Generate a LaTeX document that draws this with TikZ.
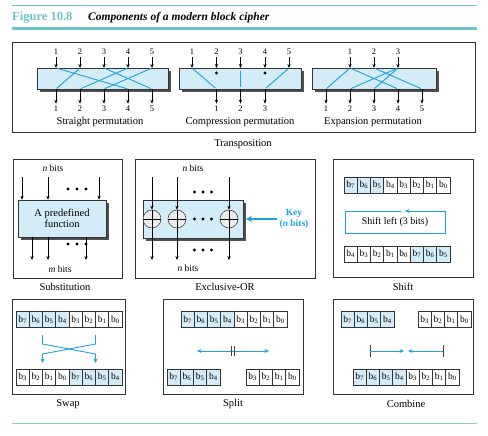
\documentclass[tikz,border=0pt]{standalone}
\usepackage{fontspec}
\setmainfont{Liberation Serif}
\usepackage{xcolor}
\usepackage{tikz}
\usetikzlibrary{arrows.meta}

\definecolor{boxblue}{HTML}{D3ECF8}
\definecolor{linecyan}{HTML}{1AA3DC}
\definecolor{headteal}{HTML}{6CC4CB}
\definecolor{shadegray}{HTML}{505050}

\tikzset{
  frame/.style={draw=black!80, line width=0.7pt},
  blockbox/.style={draw=black!80, fill=boxblue, line width=0.5pt},
  shadowbox/.style={fill=shadegray},
  inarrow/.style={-{Stealth[length=4pt,width=3.2pt]}, line width=0.55pt},
  wire/.style={linecyan, line width=0.9pt},
  cyanarrow/.style={wire, -{Stealth[length=4.5pt,width=4pt]}},
  num/.style={font=\fontsize{8.5}{9}\selectfont, inner sep=0pt, outer sep=2.5pt},
  caption/.style={font=\fontsize{10.5}{12}\selectfont, inner sep=0pt},
  bitslbl/.style={font=\fontsize{9.5}{11}\selectfont, inner sep=0pt},
  cell/.style={draw=black!80, line width=0.5pt, minimum width=13.25pt, minimum height=16pt, inner sep=0pt, font=\fontsize{9.5}{10}\selectfont},
  cellon/.style={cell, fill=boxblue},
  xorgate/.style={circle, draw=black!80, fill=gray!15, minimum size=18pt, inner sep=0pt, line width=0.5pt},
}

\begin{document}
\begin{tikzpicture}[x=1pt,y=-1pt]
\useasboundingbox (0,0) rectangle (488,436);

% Heading
\draw[headteal, line width=0.8pt] (12,5) -- (477,5);
\node[anchor=base west, text=headteal, font=\bfseries\fontsize{12.5}{13}\selectfont, inner sep=0pt] (fignum) at (12,20.5) {Figure 10.8};
\node[anchor=base west, font=\bfseries\itshape\fontsize{11.5}{12}\selectfont, inner sep=0pt] (figtitle) at (88,20.5) {Components of a modern block cipher};
\fill[headteal] (12,27.3) rectangle (477,30);

% Transposition panel
\draw[frame] (12,42) rectangle (475,132);

% Straight permutation
\fill[shadowbox] (40,71) rectangle (171,92);
\draw[blockbox] (37,68) rectangle (168,89);
\foreach \i/\x in {1/56,2/80,3/104,4/128,5/152} {
  \node[num] (sp-in-\i) at (\x,52) {\i};
  \coordinate (sp-t-\i) at (\x,68);
  \coordinate (sp-b-\i) at (\x,89);
  \node[num] (sp-out-\i) at (\x,109) {\i};
  \draw[inarrow] (sp-in-\i) -- (sp-t-\i);
  \draw[inarrow] (sp-b-\i) -- (sp-out-\i);
}
\foreach \a/\b in {1/4,2/1,3/5,4/2,5/3}
  \draw[wire, shorten <=1pt, shorten >=1pt] (sp-t-\a) -- (sp-b-\b);
\node[caption] (sp-cap) at (100,122) {Straight permutation};

% Compression permutation
\fill[shadowbox] (182,71) rectangle (304,92);
\draw[blockbox] (179,68) rectangle (301,89);
\foreach \i/\x in {1/192,2/216.5,3/240.5,4/265,5/289} {
  \node[num] (cp-in-\i) at (\x,52) {\i};
  \coordinate (cp-t-\i) at (\x,68);
  \draw[inarrow] (cp-in-\i) -- (cp-t-\i);
}
\foreach \i/\x in {1/216.5,2/240.5,3/265} {
  \coordinate (cp-b-\i) at (\x,89);
  \node[num] (cp-out-\i) at (\x,109) {\i};
  \draw[inarrow] (cp-b-\i) -- (cp-out-\i);
}
\draw[wire, shorten <=1.5pt, shorten >=1.5pt] (cp-t-1) -- (cp-b-1);
\draw[wire, shorten <=3.5pt, shorten >=1.5pt] (cp-t-3) -- (cp-b-2);
\draw[wire, shorten <=1.5pt, shorten >=1.5pt] (cp-t-5) -- (cp-b-3);
\fill ([yshift=-5pt]cp-t-2) circle (1.6);
\fill ([yshift=-5pt]cp-t-4) circle (1.6);
\node[caption] (cp-cap) at (240,122) {Compression permutation};

% Expansion permutation
\fill[shadowbox] (315,71) rectangle (439,92);
\draw[blockbox] (312,68) rectangle (436,89);
\foreach \i/\x in {1/350,2/374,3/398} {
  \node[num] (ep-in-\i) at (\x,52) {\i};
  \coordinate (ep-t-\i) at (\x,68);
  \draw[inarrow] (ep-in-\i) -- (ep-t-\i);
}
\foreach \i/\x in {1/326,2/350,3/374,4/398,5/422} {
  \coordinate (ep-b-\i) at (\x,89);
  \node[num] (ep-out-\i) at (\x,109) {\i};
  \draw[inarrow] (ep-b-\i) -- (ep-out-\i);
}
\foreach \a/\b in {1/1,1/4,2/5,3/2,3/3}
  \draw[wire, shorten <=1pt, shorten >=1pt] (ep-t-\a) -- (ep-b-\b);
\node[caption] (ep-cap) at (373,122) {Expansion permutation};

\node[caption] (tr-cap) at (243,144) {Transposition};

% Substitution
\draw[frame] (13,159) rectangle (122,278);
\node[bitslbl] (sub-n) at (53,168) {\textit{n} bits};
\fill[shadowbox] (21,203) rectangle (109,240);
\node[blockbox, minimum width=88pt, minimum height=37pt, align=center, font=\fontsize{10.5}{11.5}\selectfont] (sub) at (62,218.5) {A predefined\\function};
\foreach \i/\x in {1/22,2/48,3/99} {
  \coordinate (sub-i\i) at (\x,177);
  \draw[inarrow] (sub-i\i) -- (sub-i\i |- sub.north);
}
\foreach \i/\x in {1/32,2/48,3/86} {
  \coordinate (sub-o\i) at (\x,260);
  \draw[inarrow] (sub-o\i |- sub.south) -- (sub-o\i);
}
\foreach \d in {-9,0,9} {
  \fill (77+\d,189) circle (1.7);
  \fill (77+\d,244) circle (1.7);
}
\node[bitslbl] (sub-m) at (60,269) {\textit{m} bits};
\node[caption] (sub-cap) at (65,287) {Substitution};

% Exclusive-OR
\draw[frame] (135,159) rectangle (315,278);
\node[bitslbl] (xor-n) at (193,168) {\textit{n} bits};
\fill[shadowbox] (146,203) rectangle (246,241);
\draw[blockbox] (143,200) rectangle (243,238);
\foreach \i/\x in {1/152,2/177,3/229} {
  \node[xorgate] (g\i) at (\x,219) {};
  \draw[line width=0.5pt] (g\i.north) -- (g\i.south);
  \draw[line width=0.5pt] (g\i.west) -- (g\i.east);
  \coordinate (xor-i\i) at (\x,177);
  \coordinate (xor-o\i) at (\x,260);
  \draw[inarrow] (xor-i\i) -- (g\i.north);
  \draw[inarrow] (g\i.south) -- (xor-o\i);
}
\foreach \d in {-8.5,0,8.5} {
  \fill (203+\d,192) circle (1.6);
  \fill (203+\d,219) circle (1.6);
  \fill (203+\d,250) circle (1.6);
}
\coordinate (key-s) at (277,219);
\coordinate (key-e) at (246,219);
\draw[linecyan, line width=1.8pt, -{Stealth[length=6pt,width=6.5pt]}] (key-s) -- (key-e);
\node[text=linecyan, font=\bfseries\fontsize{9.5}{11}\selectfont, align=center, inner sep=0pt] (key) at (294,218.5) {Key\\(\textit{n} bits)};
\node[bitslbl] (xor-n2) at (188,268) {\textit{n} bits};
\node[caption] (xor-cap) at (225,287) {Exclusive-OR};

% Shift
\draw[frame] (333,159) rectangle (473,277);
\foreach \b/\i in {7/0,6/1,5/2}
  \node[cellon] (sh-t\i) at ({350.6+13.25*\i},185) {b\textsubscript{\b}};
\foreach \b/\i in {4/3,3/4,2/5,1/6,0/7}
  \node[cell] (sh-t\i) at ({350.6+13.25*\i},185) {b\textsubscript{\b}};
\foreach \b/\i in {4/0,3/1,2/2,1/3,0/4}
  \node[cell] (sh-b\i) at ({350.6+13.25*\i},254) {b\textsubscript{\b}};
\foreach \b/\i in {7/5,6/6,5/7}
  \node[cellon] (sh-b\i) at ({350.6+13.25*\i},254) {b\textsubscript{\b}};
\coordinate (sh-a) at (401,211);
\coordinate (sh-z) at (405,211);
\draw[cyanarrow] (sh-a) -- (345,211) -- (345,233) -- (445,233) -- (445,211) -- (sh-z);
\node[font=\fontsize{10}{11}\selectfont, inner sep=0pt] (sh-txt) at (395,222.5) {Shift left (3 bits)};
\node[caption] (sh-cap) at (403,287) {Shift};

% Swap
\draw[frame] (12,299) rectangle (125,394);
\foreach \b/\i in {7/0,6/1,5/2,4/3}
  \node[cellon] (sw-t\i) at ({22.6+13.25*\i},319.5) {b\textsubscript{\b}};
\foreach \b/\i in {3/4,2/5,1/6,0/7}
  \node[cell] (sw-t\i) at ({22.6+13.25*\i},319.5) {b\textsubscript{\b}};
\foreach \b/\i in {3/0,2/1,1/2,0/3}
  \node[cell] (sw-b\i) at ({22.6+13.25*\i},377) {b\textsubscript{\b}};
\foreach \b/\i in {7/4,6/5,5/6,4/7}
  \node[cellon] (sw-b\i) at ({22.6+13.25*\i},377) {b\textsubscript{\b}};
\coordinate (sw-l) at (42.5,335);
\coordinate (sw-r) at (95.5,335);
\coordinate (sw-l2) at (42.5,363);
\coordinate (sw-r2) at (95.5,363);
\draw[cyanarrow] (sw-l) -- (42.5,344) -- (95.5,354) -- (sw-r2);
\draw[cyanarrow] (sw-r) -- (95.5,344) -- (42.5,354) -- (sw-l2);
\node[caption] (sw-cap) at (68,404) {Swap};

% Split
\draw[frame] (163,299) rectangle (303,394);
\foreach \b/\i in {7/0,6/1,5/2,4/3}
  \node[cellon] (spl-t\i) at ({187.6+13.25*\i},319.5) {b\textsubscript{\b}};
\foreach \b/\i in {3/4,2/5,1/6,0/7}
  \node[cell] (spl-t\i) at ({187.6+13.25*\i},319.5) {b\textsubscript{\b}};
\foreach \b/\i in {7/0,6/1,5/2,4/3}
  \node[cellon] (spl-l\i) at ({173.6+13.25*\i},377) {b\textsubscript{\b}};
\foreach \b/\i in {3/0,2/1,1/2,0/3}
  \node[cell] (spl-r\i) at ({252.6+13.25*\i},377) {b\textsubscript{\b}};
\coordinate (spl-a) at (197,351);
\coordinate (spl-b) at (269,351);
\draw[wire, {Stealth[length=4.5pt,width=4pt]}-{Stealth[length=4.5pt,width=4pt]}] (spl-a) -- (spl-b);
\draw[black!75, line width=0.6pt] (231.5,346) -- (231.5,356);
\draw[black!75, line width=0.6pt] (234.5,346) -- (234.5,356);
\node[caption] (spl-cap) at (233,404) {Split};

% Combine
\draw[frame] (333,299) rectangle (473,394);
\foreach \b/\i in {7/0,6/1,5/2,4/3}
  \node[cellon] (cb-l\i) at ({347.6+13.25*\i},319.5) {b\textsubscript{\b}};
\foreach \b/\i in {3/0,2/1,1/2,0/3}
  \node[cell] (cb-r\i) at ({424.6+13.25*\i},319.5) {b\textsubscript{\b}};
\foreach \b/\i in {7/0,6/1,5/2,4/3}
  \node[cellon] (cb-b\i) at ({359.6+13.25*\i},377) {b\textsubscript{\b}};
\foreach \b/\i in {3/4,2/5,1/6,0/7}
  \node[cell] (cb-b\i) at ({359.6+13.25*\i},377) {b\textsubscript{\b}};
\coordinate (cb-a) at (370,351);
\coordinate (cb-am) at (404,351);
\coordinate (cb-b) at (443,351);
\coordinate (cb-bm) at (408,351);
\draw[black!75, line width=0.6pt] (370,345) -- (370,357);
\draw[black!75, line width=0.6pt] (443,345) -- (443,357);
\draw[cyanarrow] (cb-a) -- (cb-am);
\draw[cyanarrow] (cb-b) -- (cb-bm);
\node[caption] (cb-cap) at (406,404) {Combine};

% Bottom rule
\draw[headteal!80, line width=0.8pt] (12,423) -- (477,423);

\end{tikzpicture}
\end{document}
